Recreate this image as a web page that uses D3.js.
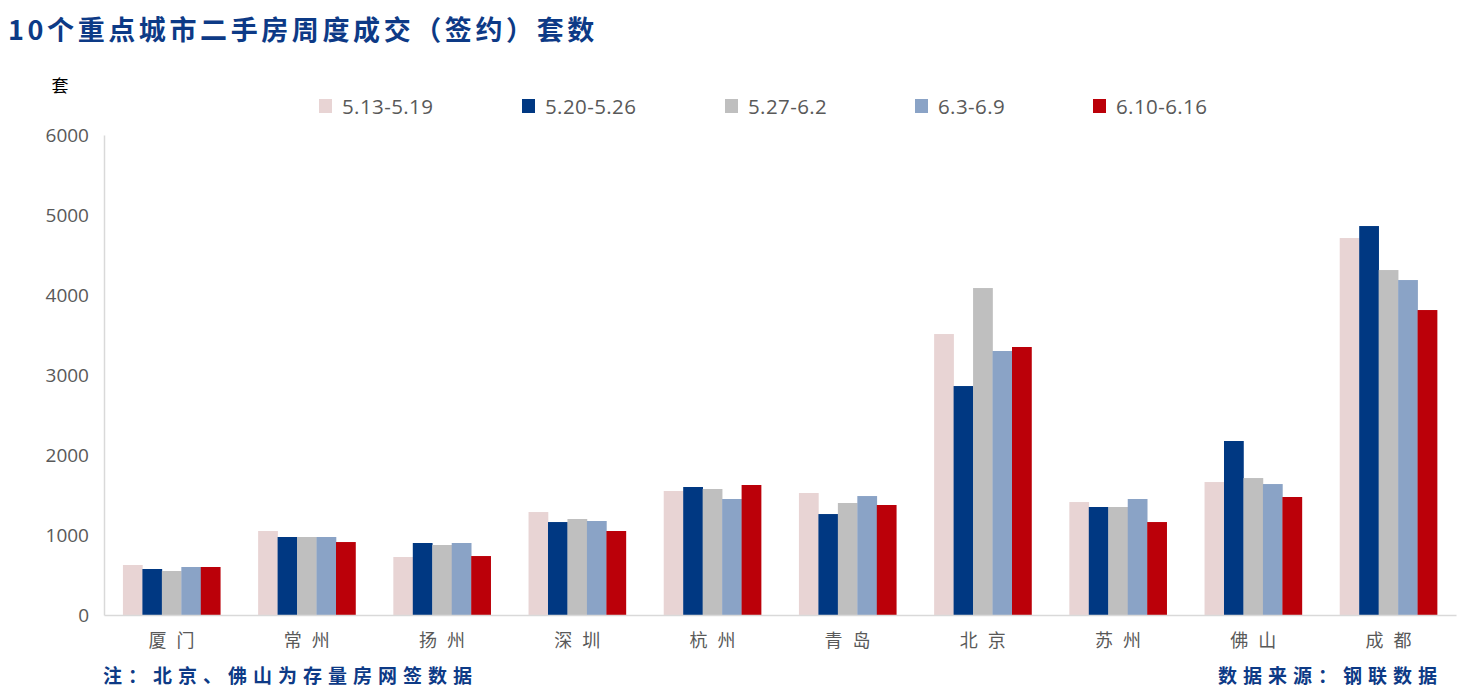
<!DOCTYPE html>
<html><head><meta charset="utf-8">
<script src="https://cdn.jsdelivr.net/npm/d3@7/dist/d3.min.js"></script>
<style>body{margin:0;background:#fff;}svg{display:block;}</style>
</head><body>
<svg id="chart" width="1467" height="689"></svg>
<script>
const categories = ["厦门","常州","扬州","深圳","杭州","青岛","北京","苏州","佛山","成都"];
const seriesNames = ["5.13-5.19","5.20-5.26","5.27-6.2","6.3-6.9","6.10-6.16"];
const s1 = [625,1050,725,1287,1550,1525,3512,1412,1662,4712];
const s2 = [575,975,900,1162,1600,1262,2862,1350,2175,4862];
const s3 = [550,975,875,1200,1575,1400,4087,1350,1712,4312];
const s4 = [600,975,900,1175,1450,1487,3300,1450,1637,4187];
const s5 = [600,912,737,1050,1625,1375,3350,1162,1475,3812];
const seriesValues = [s1,s2,s3,s4,s5];
const colors = ["#e8d4d4","#003882","#bfbfbf","#8aa3c6","#bb0009"];
const yTicks = [0,1000,2000,3000,4000,5000,6000];

(function(){
const svg = d3.select("#chart");
const mLeft = 104, mRight = 1456, mTop = 135, mBottom = 615;
const titleColor = "#0d3a86";

const x0 = d3.scaleBand().domain(categories).range([mLeft, mRight]).paddingInner(0.28).paddingOuter(0.14);
const x1 = d3.scaleBand().domain(d3.range(seriesNames.length)).range([0, x0.bandwidth()]).padding(0);
const y = d3.scaleLinear().domain([0, 6000]).range([mBottom, mTop]);

svg.append("text").attr("x", 8).attr("y", 40)
  .attr("font-family", "'Noto Sans CJK SC', sans-serif").attr("font-weight", "bold")
  .attr("font-size", 27).attr("letter-spacing", 3.6).attr("fill", titleColor)
  .text("10个重点城市二手房周度成交（签约）套数");

svg.append("text").attr("x", 60).attr("y", 92).attr("text-anchor", "middle")
  .attr("font-family", "'Noto Sans CJK SC', sans-serif").attr("font-size", 17).attr("fill", "#000")
  .text("套");

const legendX = [319, 522, 725, 915, 1093];
const lg = svg.append("g");
seriesNames.forEach((n, i) => {
  lg.append("rect").attr("x", legendX[i]).attr("y", 99).attr("width", 13).attr("height", 14).attr("fill", colors[i]);
  lg.append("text").attr("x", legendX[i] + 23).attr("y", 113.5)
    .attr("font-family", "'Open Sans', sans-serif").attr("font-size", 20.5).attr("letter-spacing", 0.4)
    .attr("fill", "#595959").text(n);
});

const yAxis = svg.append("g").attr("transform", `translate(${mLeft},0)`)
  .call(d3.axisLeft(y).tickValues(yTicks).tickSize(0).tickPadding(15).tickFormat(d3.format("d")));
yAxis.select(".domain").attr("stroke", "#d9d9d9").attr("stroke-width", 1.5);
yAxis.selectAll("text").attr("font-family", "'Open Sans', sans-serif").attr("font-size", 19).attr("fill", "#595959");

const groups = svg.append("g").selectAll("g").data(categories).join("g")
  .attr("transform", d => `translate(${x0(d)},0)`);
groups.selectAll("rect").data((d, ci) => seriesValues.map((s, si) => ({si, v: s[ci]}))).join("rect")
  .attr("x", d => x1(d.si)).attr("width", x1.bandwidth() + 0.3)
  .attr("y", d => y(d.v)).attr("height", d => y(0) - y(d.v))
  .attr("fill", d => colors[d.si]);

const xAxis = svg.append("g").attr("transform", `translate(0,${mBottom})`)
  .call(d3.axisBottom(x0).tickSize(0).tickPadding(0).tickFormat(""));
xAxis.select(".domain").attr("stroke", "#d9d9d9").attr("stroke-width", 1.5);
svg.append("g").selectAll("text").data(categories).join("text")
  .attr("x", d => x0(d) + x0.bandwidth() / 2 + 5).attr("y", 647)
  .attr("text-anchor", "middle")
  .attr("font-family", "'Noto Sans CJK SC', sans-serif").attr("font-size", 18)
  .attr("letter-spacing", 10).attr("fill", "#595959").text(d => d);

svg.append("text").attr("x", 103).attr("y", 683)
  .attr("font-family", "'Noto Sans CJK SC', sans-serif").attr("font-weight", "bold")
  .attr("font-size", 19).attr("letter-spacing", 6).attr("fill", titleColor)
  .text("注：北京、佛山为存量房网签数据");
svg.append("text").attr("x", 1443).attr("y", 683).attr("text-anchor", "end")
  .attr("font-family", "'Noto Sans CJK SC', sans-serif").attr("font-weight", "bold")
  .attr("font-size", 19).attr("letter-spacing", 6).attr("fill", titleColor)
  .text("数据来源：钢联数据");
})();
</script>
</body></html>
